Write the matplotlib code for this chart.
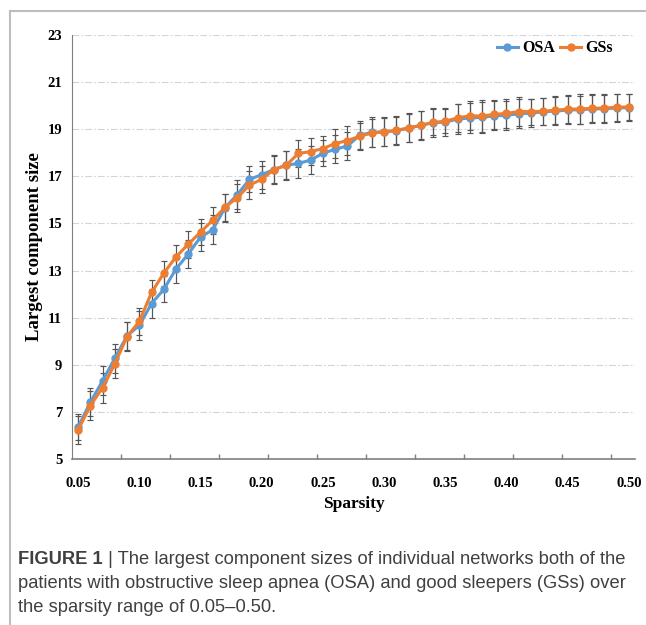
import matplotlib
matplotlib.use("Agg")
import matplotlib.pyplot as plt
from matplotlib.lines import Line2D

# sparsity categories (x axis)
sparsity = [0.05, 0.06, 0.07, 0.08, 0.09, 0.10, 0.11, 0.12, 0.13, 0.14,
            0.15, 0.16, 0.17, 0.18, 0.19, 0.20, 0.21, 0.22, 0.23, 0.24,
            0.25, 0.26, 0.27, 0.28, 0.29, 0.30, 0.31, 0.32, 0.33, 0.34,
            0.35, 0.36, 0.37, 0.38, 0.39, 0.40, 0.41, 0.42, 0.43, 0.44,
            0.45, 0.46, 0.47, 0.48, 0.49, 0.50]

# largest component size
osa = [6.36, 7.41, 8.32, 9.28, 10.23, 10.67, 11.60, 12.20, 13.07, 13.70,
       14.42, 14.73, 15.67, 16.22, 16.87, 17.07, 17.29, 17.47, 17.55, 17.69,
       17.98, 18.15, 18.29, 18.74, 18.87, 18.89, 18.94, 19.04, 19.17, 19.28,
       19.30, 19.43, 19.48, 19.50, 19.57, 19.59, 19.66, 19.68, 19.74, 19.77,
       19.81, 19.83, 19.86, 19.87, 19.90, 19.92]
gss = [6.23, 7.27, 8.02, 9.04, 10.20, 10.84, 12.07, 12.89, 13.58, 14.12,
       14.63, 15.14, 15.69, 16.09, 16.63, 16.87, 17.29, 17.47, 17.97, 18.05,
       18.18, 18.39, 18.52, 18.70, 18.84, 18.89, 18.95, 19.06, 19.16, 19.29,
       19.34, 19.48, 19.57, 19.56, 19.63, 19.67, 19.75, 19.75, 19.76, 19.81,
       19.85, 19.86, 19.89, 19.90, 19.93, 19.95]

# standard deviations (error bars)
osa_err = [0.55, 0.60, 0.62, 0.62, 0.60, 0.60, 0.60, 0.55, 0.60, 0.60,
           0.60, 0.62, 0.60, 0.62, 0.55, 0.60, 0.58, 0.60, 0.62, 0.60,
           0.56, 0.60, 0.60, 0.60, 0.64, 0.60, 0.58, 0.60, 0.60, 0.60,
           0.60, 0.62, 0.62, 0.64, 0.62, 0.62, 0.62, 0.60, 0.58, 0.58,
           0.60, 0.60, 0.60, 0.60, 0.58, 0.57]
gss_err = [0.58, 0.62, 0.65, 0.62, 0.60, 0.58, 0.55, 0.53, 0.50, 0.58,
           0.54, 0.57, 0.58, 0.60, 0.60, 0.58, 0.60, 0.62, 0.56, 0.58,
           0.54, 0.60, 0.60, 0.58, 0.60, 0.62, 0.60, 0.62, 0.60, 0.55,
           0.52, 0.58, 0.62, 0.66, 0.62, 0.60, 0.60, 0.55, 0.58, 0.60,
           0.60, 0.62, 0.60, 0.60, 0.58, 0.55]

label_ticks = [0.05, 0.10, 0.15, 0.20, 0.25, 0.30, 0.35, 0.40, 0.45, 0.50]
tick_labels = ["0.05", "0.10", "0.15", "0.20", "0.25", "0.30", "0.35", "0.40", "0.45", "0.50"]
mark_ticks = [0.085, 0.125, 0.165, 0.205, 0.245, 0.285, 0.325, 0.365, 0.405, 0.445, 0.485]
y_ticks = [5, 7, 9, 11, 13, 15, 17, 19, 21, 23]

serif = "Liberation Serif"
blue = "#5B9BD5"
orange = "#ED7D31"

fig = plt.figure(figsize=(6.46, 6.25), dpi=100)
ax = fig.add_axes([72/646, 1-459/625, 563/646, 424/625])

ax.errorbar(sparsity, osa, yerr=osa_err, fmt="none", ecolor="#555555",
            elinewidth=0.85, capsize=2, capthick=0.85, zorder=2)
ax.errorbar(sparsity, gss, yerr=gss_err, fmt="none", ecolor="#555555",
            elinewidth=0.85, capsize=2, capthick=0.85, zorder=2)
ax.plot(sparsity, osa, color=blue, lw=2.2, marker="o", ms=5, label="OSA", zorder=3)
ax.plot(sparsity, gss, color=orange, lw=2.2, marker="o", ms=5, label="GSs", zorder=4)

ax.set_xlim(0.045, 0.505)
ax.set_ylim(5, 23)
ax.set_yticks(y_ticks)
ax.set_yticklabels([str(v) for v in y_ticks], fontfamily=serif, fontweight="bold", fontsize=10.5)
ax.set_xticks(label_ticks)
ax.set_xticklabels(tick_labels, fontfamily=serif, fontweight="bold", fontsize=10.5)
ax.set_xticks(mark_ticks, minor=True)
ax.tick_params(axis="x", which="major", length=0, pad=13)
ax.tick_params(axis="x", which="minor", direction="in", length=3.6, width=1, color="#7f7f7f")
ax.tick_params(axis="y", length=0, pad=7)

ax.yaxis.grid(True, color="#d4d4d4", linestyle=(0, (6, 2, 1.5, 2)), lw=0.8)
ax.set_axisbelow(True)
for s in ["top", "right"]:
    ax.spines[s].set_visible(False)
ax.spines["left"].set_color("#7f7f7f")
ax.spines["bottom"].set_color("#7f7f7f")
ax.spines["bottom"].set_linewidth(1.2)

ax.set_xlabel("Sparsity", fontfamily=serif, fontweight="bold", fontsize=12.5, labelpad=4)
ax.set_ylabel("Largest component size", fontfamily=serif, fontweight="bold", fontsize=13.5, labelpad=3)

ax.legend(loc="center left", bbox_to_anchor=(0.755, 0.969), ncol=2, frameon=False,
          borderpad=0, borderaxespad=0, handlelength=1.3, handletextpad=0.25,
          columnspacing=0.35, prop={"family": serif, "weight": "bold", "size": 11.5})

# outer frame of the figure panel
fig.add_artist(Line2D([10/646, 1], [1-11/625, 1-11/625], transform=fig.transFigure,
                      color="#bdbdbd", lw=1.5))
fig.add_artist(Line2D([10/646, 10/646], [1-11/625, 0], transform=fig.transFigure,
                      color="#bdbdbd", lw=1.5))

# caption
cap_color = "#404040"
cap_size = 13.2
t = fig.text(18/646, 1-560/625, "FIGURE 1", fontfamily="Liberation Sans", fontweight="bold",
             fontsize=cap_size, color=cap_color, va="center")
fig.canvas.draw()
bb = t.get_window_extent(fig.canvas.get_renderer())
fig.text(bb.x1/646, 1-560/625,
         " | The largest component sizes of individual networks both of the",
         fontfamily="Liberation Sans", fontsize=cap_size, color=cap_color, va="center")
fig.text(18/646, 1-584/625,
         "patients with obstructive sleep apnea (OSA) and good sleepers (GSs) over",
         fontfamily="Liberation Sans", fontsize=cap_size, color=cap_color, va="center")
fig.text(18/646, 1-607/625, "the sparsity range of 0.05\u20130.50.",
         fontfamily="Liberation Sans", fontsize=cap_size, color=cap_color, va="center")

fig.savefig("out.png", dpi=100)
